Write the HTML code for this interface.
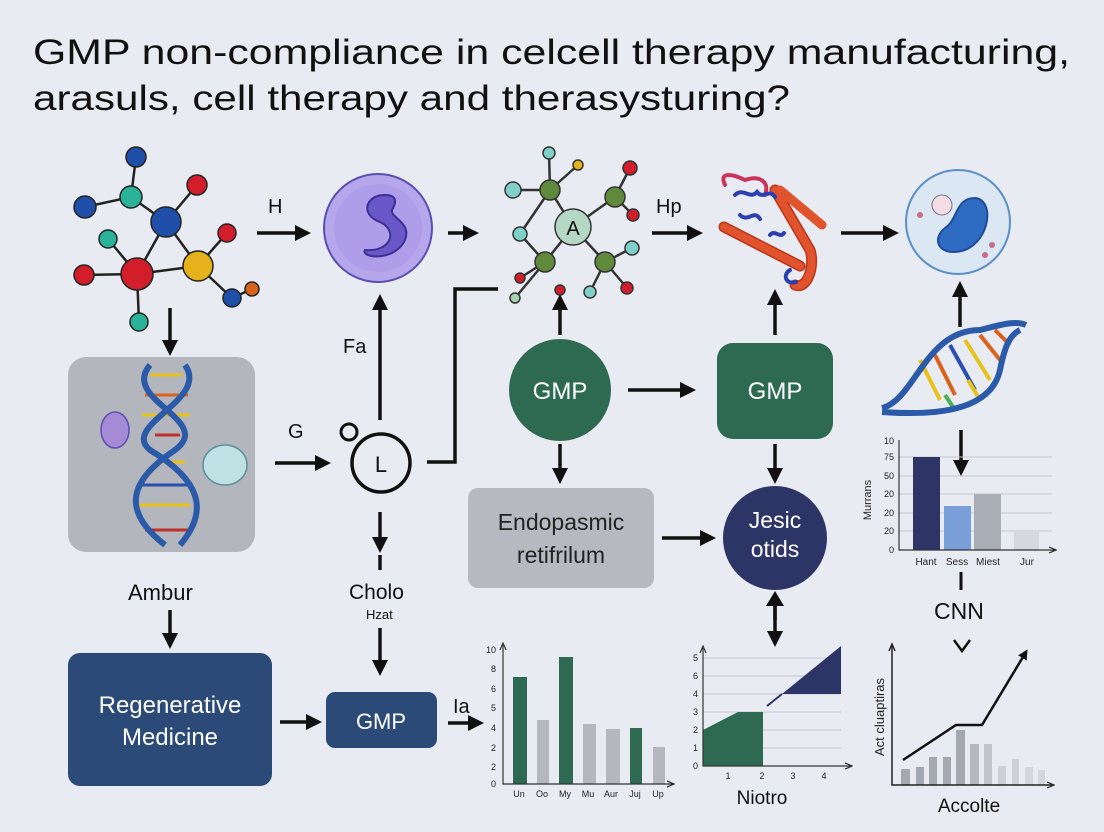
<!DOCTYPE html>
<html><head><meta charset="utf-8"><style>
html,body{margin:0;padding:0;background:#e9ebf2;}
svg{display:block;font-family:"Liberation Sans",Arial,sans-serif;}
</style></head><body>
<svg width="1104" height="832" viewBox="0 0 1104 832" xmlns="http://www.w3.org/2000/svg">
<defs>
<marker id="ah" markerWidth="10" markerHeight="10" refX="7" refY="5" orient="auto" markerUnits="userSpaceOnUse" viewBox="0 0 10 10">
<path d="M0,0 L10,5 L0,10 z" fill="#111"/></marker>
<marker id="as" markerWidth="8" markerHeight="8" refX="6" refY="4" orient="auto" markerUnits="userSpaceOnUse" viewBox="0 0 8 8">
<path d="M0,1 L7,4 L0,7" fill="none" stroke="#222" stroke-width="1.2"/></marker>
<marker id="ab" markerWidth="16" markerHeight="16" refX="12" refY="8" orient="auto" markerUnits="userSpaceOnUse" viewBox="0 0 16 16">
<path d="M0,0 L16,8 L0,16 z" fill="#111"/></marker>
</defs>
<rect width="1104" height="832" fill="#e9ebf2"/>
<text x="33" y="64" font-size="35" fill="#111" textLength="1037" lengthAdjust="spacingAndGlyphs">GMP non-compliance in celcell therapy manufacturing,</text>
<text x="33" y="110" font-size="35" fill="#111" textLength="757" lengthAdjust="spacingAndGlyphs">arasuls, cell therapy and therasysturing?</text>

<!-- arrows (thick) -->
<g stroke="#111" stroke-width="3.5" fill="none" marker-end="url(#ab)">
<line x1="257" y1="233" x2="307" y2="233"/>
<line x1="448" y1="233" x2="475" y2="233"/>
<line x1="652" y1="233" x2="699" y2="233"/>
<line x1="841" y1="233" x2="895" y2="233"/>
<line x1="170" y1="308" x2="170" y2="352"/>
<line x1="275" y1="463" x2="327" y2="463"/>
<line x1="380" y1="420" x2="380" y2="298"/>
<line x1="560" y1="335" x2="560" y2="298"/>
<line x1="628" y1="390" x2="692" y2="390"/>
<line x1="775" y1="335" x2="775" y2="293"/>
<line x1="560" y1="444" x2="560" y2="480"/>
<line x1="775" y1="444" x2="775" y2="480"/>
<line x1="662" y1="538" x2="712" y2="538"/>
<line x1="960" y1="327" x2="960" y2="285"/>
<line x1="961" y1="430" x2="961" y2="472"/>
<line x1="380" y1="512" x2="380" y2="549"/>
<line x1="380" y1="628" x2="380" y2="672"/>
<line x1="170" y1="610" x2="170" y2="645"/>
<line x1="280" y1="722" x2="318" y2="722"/>
<line x1="448" y1="723" x2="480" y2="723"/>
<line x1="775" y1="605" x2="775" y2="643"/>
</g>
<line x1="775" y1="600" x2="775" y2="620" stroke="#111" stroke-width="3.5"/>
<path d="M766,606 L775,591 L784,606 z" fill="#111"/>
<line x1="380" y1="555" x2="380" y2="570" stroke="#111" stroke-width="3.5"/>
<path d="M427,462 L455,462 L455,289 L498,289" stroke="#111" stroke-width="3.5" fill="none"/>
<line x1="961" y1="572" x2="961" y2="590" stroke="#111" stroke-width="3"/>
<path d="M954,640 L962,651 L970,640" stroke="#111" stroke-width="2.5" fill="none"/>

<!-- labels -->
<g font-size="20" fill="#111">
<text x="268" y="213">H</text>
<text x="656" y="213">Hp</text>
<text x="343" y="353">Fa</text>
<text x="288" y="438">G</text>
<text x="128" y="600" font-size="22">Ambur</text>
<text x="349" y="599" font-size="21">Cholo</text>
<text x="366" y="619" font-size="13">Hzat</text>
<text x="453" y="713" font-size="20">Ia</text>
<text x="934" y="619" font-size="23">CNN</text>
</g>

<!-- molecule 1 -->
<g stroke="#222" stroke-width="2.5">
<line x1="136" y1="157" x2="131" y2="197"/><line x1="131" y1="197" x2="85" y2="207"/>
<line x1="131" y1="197" x2="166" y2="222"/><line x1="166" y1="222" x2="197" y2="185"/>
<line x1="166" y1="222" x2="137" y2="274"/><line x1="166" y1="222" x2="198" y2="266"/>
<line x1="108" y1="239" x2="137" y2="274"/><line x1="84" y1="275" x2="137" y2="274"/>
<line x1="137" y1="274" x2="198" y2="266"/><line x1="137" y1="274" x2="139" y2="322"/>
<line x1="198" y1="266" x2="227" y2="233"/><line x1="198" y1="266" x2="232" y2="298"/>
<line x1="232" y1="298" x2="252" y2="289"/>
</g>
<g stroke="#222" stroke-width="1.5">
<circle cx="136" cy="157" r="10" fill="#1f4fa8"/><circle cx="131" cy="197" r="11" fill="#2bb39a"/>
<circle cx="85" cy="207" r="11" fill="#1f4fa8"/><circle cx="197" cy="185" r="10" fill="#d21e2a"/>
<circle cx="166" cy="222" r="15" fill="#1f4fa8"/><circle cx="108" cy="239" r="9" fill="#2bb39a"/>
<circle cx="84" cy="275" r="10" fill="#d21e2a"/><circle cx="137" cy="274" r="16" fill="#d21e2a"/>
<circle cx="198" cy="266" r="15" fill="#e6b21b"/><circle cx="227" cy="233" r="9" fill="#d21e2a"/>
<circle cx="139" cy="322" r="9" fill="#2bb39a"/><circle cx="232" cy="298" r="9" fill="#1f4fa8"/>
<circle cx="252" cy="289" r="7" fill="#d8621c"/>
</g>

<!-- purple cell -->
<circle cx="378" cy="228" r="54" fill="#b6a6ec" stroke="#5a4fb0" stroke-width="2"/>
<circle cx="378" cy="228" r="44" fill="#a898e6" opacity="0.6"/>
<path d="M385,195 C365,195 360,215 380,222 C398,230 392,252 365,250 C360,258 395,262 405,240 C412,222 390,218 392,210 C398,200 395,195 385,195 z" fill="#6a58c8" stroke="#3b2f96" stroke-width="2"/>

<!-- molecule 2 -->
<g stroke="#333" stroke-width="2.5">
<line x1="549" y1="153" x2="550" y2="190"/><line x1="578" y1="165" x2="550" y2="190"/>
<line x1="513" y1="190" x2="550" y2="190"/><line x1="550" y1="190" x2="520" y2="234"/>
<line x1="550" y1="190" x2="573" y2="227"/><line x1="573" y1="227" x2="615" y2="197"/>
<line x1="615" y1="197" x2="630" y2="168"/><line x1="615" y1="197" x2="633" y2="215"/>
<line x1="573" y1="227" x2="605" y2="262"/><line x1="605" y1="262" x2="632" y2="248"/>
<line x1="605" y1="262" x2="627" y2="288"/><line x1="605" y1="262" x2="590" y2="292"/>
<line x1="573" y1="227" x2="545" y2="262"/><line x1="545" y1="262" x2="520" y2="278"/>
<line x1="545" y1="262" x2="515" y2="298"/><line x1="520" y1="234" x2="545" y2="262"/>
</g>
<g stroke="#333" stroke-width="1.5">
<circle cx="549" cy="153" r="6" fill="#7fd0c8"/><circle cx="578" cy="165" r="5" fill="#e6b21b"/>
<circle cx="550" cy="190" r="10" fill="#5f8a3c"/><circle cx="513" cy="190" r="8" fill="#7fd0c8"/>
<circle cx="520" cy="234" r="7" fill="#7fd0c8"/><circle cx="615" cy="197" r="10" fill="#5f8a3c"/>
<circle cx="630" cy="168" r="7" fill="#d21e2a"/><circle cx="633" cy="215" r="6" fill="#d21e2a"/>
<circle cx="605" cy="262" r="10" fill="#5f8a3c"/><circle cx="632" cy="248" r="7" fill="#7fd0c8"/>
<circle cx="627" cy="288" r="6" fill="#d21e2a"/><circle cx="590" cy="292" r="6" fill="#7fd0c8"/>
<circle cx="545" cy="262" r="10" fill="#5f8a3c"/><circle cx="520" cy="278" r="5" fill="#d21e2a"/>
<circle cx="515" cy="298" r="5" fill="#a7d1a8"/><circle cx="560" cy="290" r="5" fill="#d21e2a"/>
<circle cx="573" cy="227" r="18" fill="#b5d8c4"/>
</g>
<text x="573" y="235" font-size="20" text-anchor="middle" fill="#111">A</text>

<!-- protein -->
<g fill="none" stroke-linecap="round">
<path d="M725,185 C718,170 735,175 745,180 C760,175 770,182 765,195" stroke="#c8345a" stroke-width="4"/>
<line x1="724" y1="227" x2="800" y2="266" stroke="#b8351a" stroke-width="11"/>
<line x1="724" y1="227" x2="800" y2="266" stroke="#e0532c" stroke-width="8"/>
<path d="M775,190 L810,250 C815,265 808,290 795,285" stroke="#b8351a" stroke-width="11"/>
<path d="M775,190 L810,250 C815,265 808,290 795,285" stroke="#e0532c" stroke-width="8"/>
<line x1="780" y1="190" x2="822" y2="225" stroke="#e0532c" stroke-width="9"/>
<path d="M735,195 c8,-8 15,5 22,-3 c6,8 12,-4 18,5 M740,215 c8,8 14,-6 20,4 M790,270 c-8,5 -4,15 6,12 M770,235 c5,-6 10,4 14,-2" stroke="#2a3fb0" stroke-width="4"/>
</g>

<!-- blue cell -->
<circle cx="958" cy="222" r="52" fill="#dbe7f3" stroke="#5b8fc6" stroke-width="2"/>
<circle cx="942" cy="205" r="10" fill="#f3dde4" stroke="#7a6c8c"/>
<path d="M975,198 C995,200 990,240 965,250 C940,258 930,240 945,228 C958,220 955,198 975,198 z" fill="#2e6cc4" stroke="#1e4a98" stroke-width="2"/>
<circle cx="992" cy="245" r="3" fill="#c66b8c"/><circle cx="985" cy="255" r="3" fill="#c66b8c"/><circle cx="920" cy="215" r="3" fill="#c66b8c"/>

<!-- gray box with DNA -->
<rect x="68" y="357" width="187" height="195" rx="18" fill="#b3b6bd"/>
<g stroke-width="3">
<line x1="150" y1="375" x2="182" y2="375" stroke="#e6c21b"/><line x1="145" y1="395" x2="188" y2="395" stroke="#d8621c"/>
<line x1="142" y1="415" x2="190" y2="415" stroke="#e6c21b"/><line x1="155" y1="435" x2="180" y2="435" stroke="#c0302a"/>
<line x1="155" y1="462" x2="185" y2="462" stroke="#e6c21b"/><line x1="140" y1="485" x2="190" y2="485" stroke="#2a4fb0"/>
<line x1="135" y1="505" x2="190" y2="505" stroke="#e6c21b"/><line x1="145" y1="530" x2="188" y2="530" stroke="#c0302a"/>
</g>
<path d="M150,365 C120,400 215,420 175,450 C130,480 120,510 165,545" fill="none" stroke="#2a5aa8" stroke-width="6"/>
<path d="M185,365 C210,400 120,425 150,450 C200,480 210,510 180,545" fill="none" stroke="#2a5aa8" stroke-width="6"/>
<ellipse cx="115" cy="430" rx="14" ry="18" fill="#a58bd6" stroke="#5a4fb0" stroke-width="1.5"/>
<ellipse cx="225" cy="465" rx="22" ry="20" fill="#bfe1e3" stroke="#5f8f9c" stroke-width="1.5"/>

<!-- L circle -->
<circle cx="349" cy="432" r="8" fill="none" stroke="#111" stroke-width="3"/>
<circle cx="381" cy="463" r="29" fill="none" stroke="#111" stroke-width="3.5"/>
<text x="381" y="472" font-size="22" text-anchor="middle" fill="#111">L</text>

<!-- GMP nodes -->
<circle cx="560" cy="390" r="51" fill="#2e6a52"/>
<text x="560" y="399" font-size="24" text-anchor="middle" fill="#fff">GMP</text>
<rect x="717" y="343" width="116" height="96" rx="16" fill="#2e6a52"/>
<text x="775" y="399" font-size="24" text-anchor="middle" fill="#fff">GMP</text>
<rect x="468" y="488" width="186" height="100" rx="10" fill="#b6b9bf"/>
<text x="561" y="530" font-size="23" text-anchor="middle" fill="#222">Endopasmic</text>
<text x="561" y="563" font-size="23" text-anchor="middle" fill="#222">retifrilum</text>
<circle cx="775" cy="538" r="52" fill="#2c3566"/>
<text x="775" y="528" font-size="23" text-anchor="middle" fill="#fff">Jesic</text>
<text x="775" y="557" font-size="23" text-anchor="middle" fill="#fff">otids</text>
<rect x="68" y="653" width="204" height="133" rx="12" fill="#2b4a78"/>
<text x="170" y="713" font-size="24" text-anchor="middle" fill="#fff">Regenerative</text>
<text x="170" y="745" font-size="24" text-anchor="middle" fill="#fff">Medicine</text>
<rect x="326" y="692" width="111" height="56" rx="9" fill="#2b4a78"/>
<text x="381" y="729" font-size="22" text-anchor="middle" fill="#fff">GMP</text>

<!-- right DNA -->
<g stroke-width="4">
<line x1="920" y1="360" x2="940" y2="400" stroke="#e6c21b"/><line x1="935" y1="355" x2="955" y2="395" stroke="#d8621c"/>
<line x1="950" y1="345" x2="975" y2="390" stroke="#2a4fb0"/><line x1="965" y1="340" x2="990" y2="380" stroke="#e6c21b"/>
<line x1="980" y1="335" x2="1000" y2="360" stroke="#d8621c"/><line x1="995" y1="330" x2="1010" y2="345" stroke="#d8621c"/>
<line x1="945" y1="395" x2="955" y2="410" stroke="#4caf50"/><line x1="968" y1="380" x2="980" y2="400" stroke="#e6c21b"/>
</g>
<path d="M882,408 C915,400 925,330 980,330 C1000,325 1015,320 1026,325" fill="none" stroke="#2a5aa8" stroke-width="6"/>
<path d="M882,412 C925,415 990,415 1000,370 C1005,345 1010,335 1020,330" fill="none" stroke="#2a5aa8" stroke-width="6"/>

<!-- bar chart top right -->
<g stroke="#c4c7cf" stroke-width="1">
<line x1="899" y1="457" x2="1052" y2="457"/><line x1="899" y1="476" x2="1052" y2="476"/>
<line x1="899" y1="494" x2="1052" y2="494"/><line x1="899" y1="513" x2="1052" y2="513"/>
<line x1="899" y1="531" x2="1052" y2="531"/></g>
<rect x="913" y="457" width="27" height="93" fill="#2c3566"/>
<rect x="944" y="506" width="27" height="44" fill="#7a9fd8"/>
<rect x="974" y="494" width="27" height="56" fill="#a9adb5"/>
<rect x="1014" y="531" width="25" height="19" fill="#d5d8de"/>
<path d="M899,440 L899,550 L1055,550" fill="none" stroke="#333" stroke-width="1.2" marker-end="url(#as)"/>
<g font-size="9" fill="#222" text-anchor="end">
<text x="894" y="444">10</text><text x="894" y="460">75</text><text x="894" y="479">50</text>
<text x="894" y="497">20</text><text x="894" y="516">20</text><text x="894" y="534">20</text><text x="894" y="553">0</text></g>
<g font-size="10" fill="#222" text-anchor="middle">
<text x="926" y="565">Hant</text><text x="957" y="565">Sess</text><text x="988" y="565">Miest</text><text x="1027" y="565">Jur</text></g>
<text transform="translate(871,500) rotate(-90)" font-size="11" text-anchor="middle" fill="#222">Murrans</text>

<!-- chart 1 -->
<rect x="513" y="677" width="14" height="107" fill="#2e6a52"/>
<rect x="537" y="720" width="12" height="64" fill="#b4b7be"/>
<rect x="559" y="657" width="14" height="127" fill="#2e6a52"/>
<rect x="583" y="724" width="13" height="60" fill="#b4b7be"/>
<rect x="606" y="729" width="14" height="55" fill="#b4b7be"/>
<rect x="630" y="728" width="12" height="56" fill="#2e6a52"/>
<rect x="653" y="747" width="12" height="37" fill="#b4b7be"/>
<path d="M503,645 L503,784 L673,784" fill="none" stroke="#333" stroke-width="1.2" marker-end="url(#as)"/>
<path d="M500,650 L503,643 L506,650" fill="none" stroke="#333" stroke-width="1.2"/>
<g font-size="9" fill="#222" text-anchor="end">
<text x="496" y="653">10</text><text x="496" y="672">8</text><text x="496" y="692">6</text>
<text x="496" y="711">5</text><text x="496" y="731">4</text><text x="496" y="751">2</text>
<text x="496" y="770">2</text><text x="496" y="787">0</text></g>
<g font-size="9" fill="#222" text-anchor="middle">
<text x="519" y="797">Un</text><text x="542" y="797">Oo</text><text x="565" y="797">My</text>
<text x="588" y="797">Mu</text><text x="611" y="797">Aur</text><text x="635" y="797">Juj</text><text x="658" y="797">Up</text></g>

<!-- chart 2 -->
<g stroke="#c4c7cf" stroke-width="1">
<line x1="703" y1="658" x2="841" y2="658"/><line x1="703" y1="676" x2="841" y2="676"/>
<line x1="703" y1="694" x2="841" y2="694"/><line x1="703" y1="712" x2="841" y2="712"/>
<line x1="703" y1="730" x2="841" y2="730"/><line x1="703" y1="748" x2="841" y2="748"/></g>
<path d="M703,730 L738,712 L763,712 L763,766 L703,766 z" fill="#2e6a52"/>
<path d="M782,694 L841,646 L841,694 z" fill="#2c3566"/>
<line x1="767" y1="706" x2="782" y2="694" stroke="#2c3566" stroke-width="2"/>
<path d="M703,648 L703,766 L851,766" fill="none" stroke="#333" stroke-width="1.2" marker-end="url(#as)"/>
<path d="M700,653 L703,646 L706,653" fill="none" stroke="#333" stroke-width="1.2"/>
<g font-size="9" fill="#222" text-anchor="end">
<text x="698" y="661">5</text><text x="698" y="679">6</text><text x="698" y="697">4</text>
<text x="698" y="715">3</text><text x="698" y="733">2</text><text x="698" y="751">1</text><text x="698" y="769">0</text></g>
<g font-size="9" fill="#222" text-anchor="middle">
<text x="728" y="779">1</text><text x="762" y="779">2</text><text x="793" y="779">3</text><text x="824" y="779">4</text></g>
<text x="762" y="804" font-size="19" text-anchor="middle" fill="#111">Niotro</text>

<!-- chart 3 -->
<g fill="#a4a8b1">
<rect x="901" y="769" width="9" height="16"/><rect x="916" y="767" width="8" height="18"/>
<rect x="929" y="757" width="8" height="28"/><rect x="943" y="757" width="8" height="28"/>
<rect x="956" y="730" width="9" height="55"/><rect x="970" y="744" width="9" height="41" fill="#b3b7bf"/>
<rect x="984" y="744" width="8" height="41" fill="#c2c5cc"/><rect x="998" y="766" width="8" height="19" fill="#cdd0d6"/>
<rect x="1012" y="759" width="7" height="26" fill="#cdd0d6"/><rect x="1025" y="767" width="8" height="18" fill="#d3d6dc"/>
<rect x="1038" y="770" width="7" height="15" fill="#d3d6dc"/></g>
<path d="M892,645 L892,785 L1053,785" fill="none" stroke="#222" stroke-width="1.5" marker-end="url(#as)"/>
<path d="M889,651 L892,644 L895,651" fill="none" stroke="#222" stroke-width="1.5"/>
<path d="M903,760 L956,725 L982,725 L1026,652" fill="none" stroke="#111" stroke-width="2.5" marker-end="url(#ah)"/>
<text transform="translate(884,717) rotate(-90)" font-size="13" text-anchor="middle" fill="#222">Act cluaptiras</text>
<text x="969" y="812" font-size="19" text-anchor="middle" fill="#111">Accolte</text>
</svg>
</body></html>
